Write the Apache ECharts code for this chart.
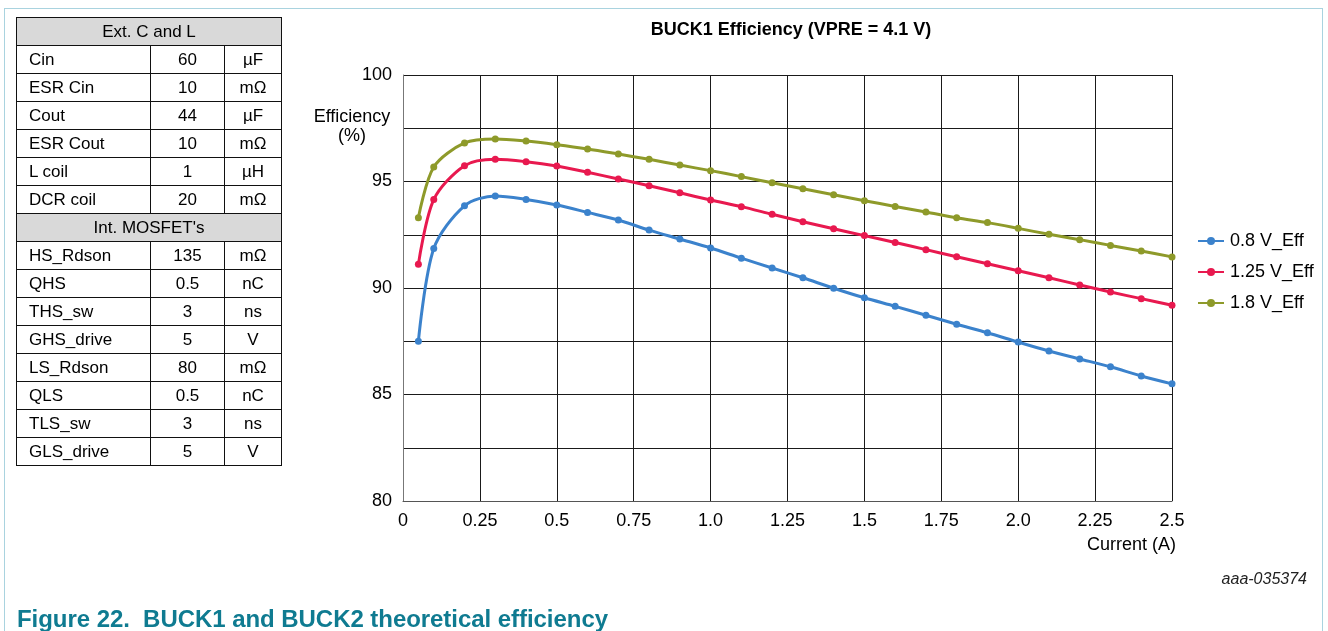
<!DOCTYPE html>
<html>
<head>
<meta charset="utf-8">
<script src="https://cdn.jsdelivr.net/npm/echarts@6/dist/echarts.min.js"></script>
<style>
  html, body { margin: 0; padding: 0; background: #fff; }
  #wrap { position: relative; width: 1328px; height: 631px; overflow: hidden; font-family: "Liberation Sans", Arial, sans-serif; }
  #frame { position: absolute; left: 4px; top: 8px; width: 1319px; height: 640px; border: 1px solid #a9d3df; box-sizing: border-box; }
  #chart { position: absolute; left: 0; top: 0; width: 1328px; height: 631px; }
  #tbl { position: absolute; left: 16px; top: 17px; border-collapse: collapse; font-size: 17px; color: #000; }
  #tbl td { border: 1px solid #111; height: 27px; padding: 0; line-height: 27px; }
  #tbl td.h { background: #d9d9d9; text-align: center; }
  #tbl td.n { width: 121px; padding-left: 12px; text-align: left; }
  #tbl td.v { width: 73px; text-align: center; }
  #tbl td.u { width: 56px; text-align: center; }
  #caption { position: absolute; left: 17px; top: 605px; font-size: 24px; font-weight: bold; color: #0f7b91; white-space: pre; letter-spacing: -0.05px; }
  #code { position: absolute; right: 21px; top: 570px; font-size: 16px; font-style: italic; color: #222; }
</style>
</head>
<body>
<div id="wrap">
  <div id="frame"></div>
  <div id="chart"></div>
  <table id="tbl"></table>
  <div id="caption">Figure 22.  BUCK1 and BUCK2 theoretical efficiency</div>
  <div id="code">aaa-035374</div>
</div>
<script>
// ---- data ----
const currents = [0.05, 0.1, 0.2, 0.3, 0.4, 0.5, 0.6, 0.7, 0.8, 0.9, 1.0, 1.1, 1.2, 1.3, 1.4, 1.5, 1.6, 1.7, 1.8, 1.9, 2.0, 2.1, 2.2, 2.3, 2.4, 2.5];
const eff08 = [87.5, 91.85, 93.86, 94.32, 94.16, 93.9, 93.55, 93.19, 92.72, 92.3, 91.88, 91.4, 90.94, 90.48, 89.99, 89.54, 89.14, 88.72, 88.3, 87.9, 87.46, 87.04, 86.67, 86.3, 85.87, 85.5];
const eff125 = [91.11, 94.15, 95.74, 96.04, 95.93, 95.73, 95.43, 95.12, 94.8, 94.47, 94.13, 93.82, 93.46, 93.11, 92.78, 92.46, 92.14, 91.8, 91.47, 91.14, 90.81, 90.48, 90.14, 89.81, 89.5, 89.19];
const eff18 = [93.3, 95.68, 96.81, 97.0, 96.9, 96.73, 96.53, 96.29, 96.04, 95.77, 95.51, 95.23, 94.94, 94.66, 94.38, 94.1, 93.83, 93.57, 93.3, 93.07, 92.8, 92.52, 92.27, 92.0, 91.74, 91.46];
const seriesNames = ["0.8 V_Eff", "1.25 V_Eff", "1.8 V_Eff"];
const xTickValues = [0, 0.25, 0.5, 0.75, 1, 1.25, 1.5, 1.75, 2, 2.25, 2.5];
const xTickLabels = ["0", "0.25", "0.5", "0.75", "1.0", "1.25", "1.5", "1.75", "2.0", "2.25", "2.5"];
const yTickValues = [80, 85, 90, 95, 100];
const yTickLabels = ["80", "85", "90", "95", "100"];

// ---- table data ----
const extHeader = "Ext. C and L";
const extNames = ["Cin", "ESR Cin", "Cout", "ESR Cout", "L coil", "DCR coil"];
const extValues = ["60", "10", "44", "10", "1", "20"];
const extUnits = ["µF", "mΩ", "µF", "mΩ", "µH", "mΩ"];
const mosHeader = "Int. MOSFET's";
const mosNames = ["HS_Rdson", "QHS", "THS_sw", "GHS_drive", "LS_Rdson", "QLS", "TLS_sw", "GLS_drive"];
const mosValues = ["135", "0.5", "3", "5", "80", "0.5", "3", "5"];
const mosUnits = ["mΩ", "nC", "ns", "V", "mΩ", "nC", "ns", "V"];

// build table
(function () {
  const t = document.getElementById('tbl');
  function addHeader(txt) {
    const tr = document.createElement('tr');
    const td = document.createElement('td');
    td.colSpan = 3; td.className = 'h'; td.textContent = txt;
    tr.appendChild(td); t.appendChild(tr);
  }
  function addRows(names, vals, units) {
    for (let i = 0; i < names.length; i++) {
      const tr = document.createElement('tr');
      [[names[i], 'n'], [vals[i], 'v'], [units[i], 'u']].forEach(([txt, c]) => {
        const td = document.createElement('td'); td.className = c; td.textContent = txt; tr.appendChild(td);
      });
      t.appendChild(tr);
    }
  }
  addHeader(extHeader); addRows(extNames, extValues, extUnits);
  addHeader(mosHeader); addRows(mosNames, mosValues, mosUnits);
})();

const colors = ['#3b82cc', '#e8194f', '#8e9a2a'];
const allSeries = [eff08, eff125, eff18];

function lookup(vals, labels, v) {
  const i = vals.findIndex(t => Math.abs(t - v) < 1e-6);
  return i >= 0 ? labels[i] : '';
}

const chart = echarts.init(document.getElementById('chart'), null, { renderer: 'canvas' });
const font = '"Liberation Sans", Arial, sans-serif';
chart.setOption({
  animation: false,
  textStyle: { fontFamily: font },
  title: {
    text: 'BUCK1 Efficiency (VPRE = 4.1 V)',
    left: 786, top: 16, textAlign: 'center',
    textStyle: { fontSize: 18, fontWeight: 'bold', color: '#000', fontFamily: font }
  },
  grid: { left: 403, top: 75, width: 769, height: 426, containLabel: false, show: false },
  legend: {
    orient: 'vertical', left: 1192, top: 227, itemGap: 13,
    itemWidth: 26, itemHeight: 10,
    data: seriesNames,
    textStyle: { fontSize: 18, color: '#000', fontFamily: font, padding: [0, 0, 0, 1] }
  },
  xAxis: {
    type: 'value', min: 0, max: 2.5, interval: 0.25,
    name: 'Current (A)', nameLocation: 'end', nameGap: 0,
    nameTextStyle: { fontSize: 18, color: '#000', align: 'right', verticalAlign: 'top', padding: [35, -4, 0, 0] },
    axisLine: { show: true, lineStyle: { color: '#555', width: 1 } },
    axisTick: { show: false },
    axisLabel: { fontSize: 18, color: '#000', margin: 11, formatter: v => lookup(xTickValues, xTickLabels, v) },
    splitLine: { show: true, lineStyle: { color: '#1a1a1a', width: 1 } }
  },
  yAxis: {
    type: 'value', min: 80, max: 100, interval: 2.5,
    axisLine: { show: true, lineStyle: { color: '#777', width: 1 } },
    axisTick: { show: false },
    axisLabel: { fontSize: 18, color: '#000', margin: 11, formatter: v => lookup(yTickValues, yTickLabels, v) },
    splitLine: { show: true, lineStyle: { color: '#1a1a1a', width: 1 } }
  },
  graphic: [
    { type: 'text', x: 352, y: 108, style: { text: 'Efficiency', fill: '#000', font: '18px ' + font, textAlign: 'center' } },
    { type: 'text', x: 352, y: 127, style: { text: '(%)', fill: '#000', font: '18px ' + font, textAlign: 'center' } }
  ],
  series: allSeries.map((vals, k) => ({
    name: seriesNames[k], type: 'line',
    data: currents.map((c, i) => [c, vals[i]]),
    smooth: 0.3,
    symbol: 'circle', symbolSize: 7,
    lineStyle: { color: colors[k], width: 3 },
    itemStyle: { color: colors[k] },
    z: 3 + k
  }))
});
</script>
</body>
</html>
